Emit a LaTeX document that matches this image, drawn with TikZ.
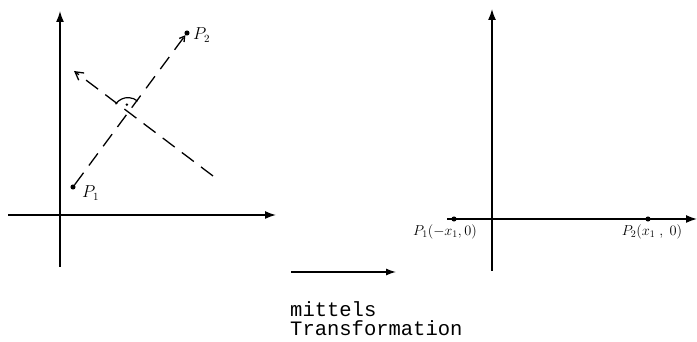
\documentclass[tikz,border=0pt]{standalone}
\usepackage{fontspec}
\newfontfamily\schreibmaschine{Liberation Mono}
\usetikzlibrary{arrows.meta}
\begin{document}
\begin{tikzpicture}[x=1pt, y=1pt,
        axis/.style={line width=1.5pt, -{Latex[length=11pt,width=8pt]}},
        dline/.style={line width=1.3pt, dash pattern=on 15pt off 9pt},
        pt/.style={circle, fill, inner sep=1.8pt},
        lab/.style={font=\fontsize{16}{18}\selectfont, inner sep=1pt},
        mono/.style={anchor=base west, inner sep=0pt, font=\schreibmaschine\fontsize{20.5}{17}\selectfont}]
        \useasboundingbox (0,0) rectangle (697,342);
        \coordinate (ylo1) at (60,75);
        \coordinate (yhi1) at (60,331);
        \coordinate (xlo1) at (8,127);
        \coordinate (xhi1) at (276,127);
        \draw[axis] (ylo1)--(yhi1);
        \draw[axis] (xlo1)--(xhi1);
        \node[pt] (p1) at (73,155) {};
        \node[pt] (p2) at (187,309) {};
        \node[lab, anchor=west] (l1) at (81,149) {$P_1$};
        \node[lab, anchor=west] (l2) at (192,307) {$P_2$};
        \draw[dline, -{Straight Barb[length=5pt,width=6pt]}] (p1)--(p2);
        \coordinate (s) at (213,166);
        \coordinate (t) at (74,271);
        \draw[dline, -{Straight Barb[length=8pt,width=9pt]}] (s)--(t);
        \coordinate (i) at (128,229.4);
        \draw[line width=1.2pt] (i) ++(146:15) arc[start angle=146, end angle=50, radius=15];
        \fill (i) ++(98:8) circle (1.4pt);
        \coordinate (ylo2) at (492,71);
        \coordinate (yhi2) at (492,333);
        \coordinate (xlo2) at (447,123);
        \coordinate (xhi2) at (697,123);
        \draw[axis] (ylo2)--(yhi2);
        \draw[axis] (xlo2)--(xhi2);
        \node[pt] (q1) at (454,123) {};
        \node[pt] (q2) at (648,123) {};
        \node[lab, font=\fontsize{14}{16}\selectfont] (m1) at (445,110) {$P_1(-x_1,0)$};
        \node[lab, font=\fontsize{14}{16}\selectfont] (m2) at (652,110) {$P_2(x_1\;,\;0)$};
        \coordinate (a) at (291,70);
        \coordinate (b) at (396,70);
        \draw[line width=1.3pt, -{Latex[length=10pt,width=7pt]}] (a)--(b);
        \node[mono] (mit) at (290,25) {mittels};
        \node[mono] (trafo) at (290,6) {Transformation};
    \end{tikzpicture}
\end{document}
